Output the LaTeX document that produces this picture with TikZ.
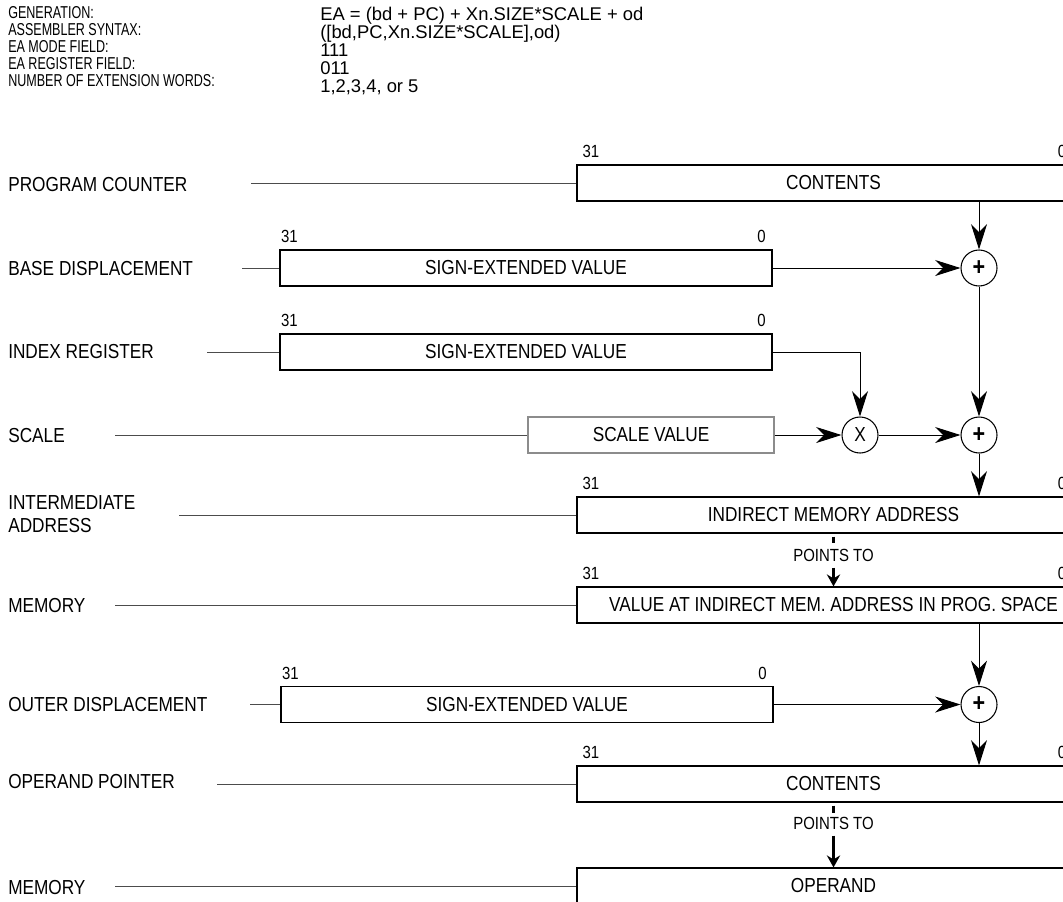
\documentclass[tikz,border=0pt]{standalone}
\usepackage{fontspec}
\setmainfont{Liberation Sans}[FakeStretch=0.85]
\newfontfamily\plainsans{Liberation Sans}
\newfontfamily\narrowsans{Liberation Sans}[FakeStretch=0.73]
\usetikzlibrary{arrows.meta}
\newcommand\lblfont{\fontsize{15.2pt}{17.25pt}\selectfont}
\newcommand\hdrfont{\narrowsans\fontsize{12.9pt}{15pt}\selectfont}
\newcommand\valfont{\plainsans\fontsize{13.8pt}{15pt}\selectfont}
\newcommand\bitfont{\fontsize{13.2pt}{15pt}\selectfont}
\newcommand\opfont{\fontsize{19pt}{20pt}\selectfont\bfseries}
\begin{document}
\begin{tikzpicture}[x=0.75pt,y=-0.75pt,
  hdr/.style={anchor=base west,inner sep=0pt,font=\hdrfont},
  lbl/.style={anchor=west,inner sep=0pt,font=\lblfont,align=left},
  reg/.style={draw,line width=0.9pt,minimum height=27pt,inner sep=0pt,font=\lblfont},
  wide/.style={reg,minimum width=384.75pt},
  half/.style={reg,minimum width=369pt},
  sum/.style={draw,circle,line width=0.8pt,minimum size=27pt,inner sep=0pt,font=\opfont},
  bit/.style={inner sep=0pt,font=\bitfont},
  lead/.style={draw=black!70,line width=0.7pt},
  flow/.style={line width=0.75pt,-{Stealth[length=19pt,width=12pt,inset=6pt]}},
  stub/.style={line width=2.25pt},
  ptr/.style={line width=2.25pt,shorten <=4.5pt,-{Stealth[length=9pt,width=10pt,inset=3pt]}}]
 \useasboundingbox (0,0) rectangle (1063,901);
 \clip (0,0) rectangle (1063,901);
 % header
 \foreach \txt [count=\i] in {GENERATION:,ASSEMBLER SYNTAX:,EA MODE FIELD:,EA REGISTER FIELD:,NUMBER OF EXTENSION WORDS:}
  \node[hdr] (key\i) at (8,1.5+17*\i) {\txt};
 \foreach \txt [count=\i] in {EA = (bd + PC) + Xn.SIZE*SCALE + od,{([bd,PC,Xn.SIZE*SCALE],od)},111,011,{1,2,3,4, or 5}}
  \node[hdr,font=\valfont] (val\i) at (320,2.5+18*\i) {\txt};
 % row names
 \node[lbl] (pcT) at (8,185) {PROGRAM COUNTER};
 \node[lbl] (bdT) at (8,269) {BASE DISPLACEMENT};
 \node[lbl] (irT) at (8,352) {INDEX REGISTER};
 \node[lbl] (scT) at (8,436) {SCALE};
 \node[lbl] (iaT) at (8,514) {INTERMEDIATE\\ADDRESS};
 \node[lbl] (memT) at (8,606) {MEMORY};
 \node[lbl] (odT) at (8,705) {OUTER DISPLACEMENT};
 \node[lbl] (opT) at (8,782) {OPERAND POINTER};
 \node[lbl] (opdT) at (8,888) {MEMORY};
 % registers
 \node[wide] (pc) at (833.5,183) {CONTENTS};
 \node[half] (bd) at (526,268) {SIGN-EXTENDED VALUE};
 \node[half] (ir) at (526,352) {SIGN-EXTENDED VALUE};
 \node[reg,draw=black!45,minimum width=184.5pt] (sc) at (651,435) {SCALE VALUE};
 \node[wide] (ia) at (833.5,515) {INDIRECT MEMORY ADDRESS};
 \node[wide] (mem) at (833.5,605) {VALUE AT INDIRECT MEM. ADDRESS IN PROG. SPACE};
 \node[half] (od) at (527,704.5) {SIGN-EXTENDED VALUE};
 \node[wide] (op) at (833.5,784) {CONTENTS};
 \node[wide] (opd) at (833.5,886) {OPERAND};
 % lines from the names
 \foreach \b/\x in {pc/251,bd/242,ir/207,sc/115,ia/179,mem/115,od/250,op/217,opd/115}{
  \coordinate (\b-lead) at (\x,0 |- \b.west);
  \draw[lead] (\b-lead) -- (\b.west);
 }
 % bit numbers
 \foreach \b in {bd,ir,od}{
  \node[bit,anchor=base west] (\b-msb) at ([xshift=1pt,yshift=5pt]\b.north west) {31};
  \node[bit,anchor=base east] (\b-lsb) at ([xshift=-5pt,yshift=5pt]\b.north east) {0};
 }
 \foreach \b in {pc,ia,mem,op}{
  \node[bit,anchor=base west] (\b-msb) at ([xshift=4.5pt,yshift=5pt]\b.north west) {31};
  \node[bit,anchor=base west] (\b-lsb) at ([xshift=-24.75pt,yshift=5pt]\b.north east) {0};
 }
 % adders
 \node[sum] (p1) at (979,268) {+};
 \node[sum,font=\lblfont] (mul) at (860,435) {X};
 \node[sum] (p2) at (979,435) {+};
 \node[sum] (p3) at (979,704.5) {+};
 \draw[flow] (p1 |- pc.south) -- (p1);
 \draw[flow] (bd) -- (p1);
 \draw[flow] (ir.east) -| (mul);
 \draw[flow] (sc) -- (mul);
 \draw[flow] (mul) -- (p2);
 \draw[flow] (p1) -- (p2);
 \draw[flow] (p2) -- (p2 |- ia.north);
 \draw[flow] (p3 |- mem.south) -- (p3);
 \draw[flow] (od) -- (p3);
 \draw[flow] (p3) -- (p3 |- op.north);
 % points to
 \node[bit] (pt1) at (833.5,555) {POINTS TO};
 \draw[stub] ([yshift=-2.25pt]ia.south) -- ([yshift=-6.75pt]ia.south);
 \draw[ptr] (pt1.south) -- (mem.north);
 \node[bit] (pt2) at (833.5,823) {POINTS TO};
 \draw[stub] ([yshift=-2.25pt]op.south) -- ([yshift=-7.5pt]op.south);
 \draw[ptr] (pt2.south) -- (opd.north);
\end{tikzpicture}
\end{document}
